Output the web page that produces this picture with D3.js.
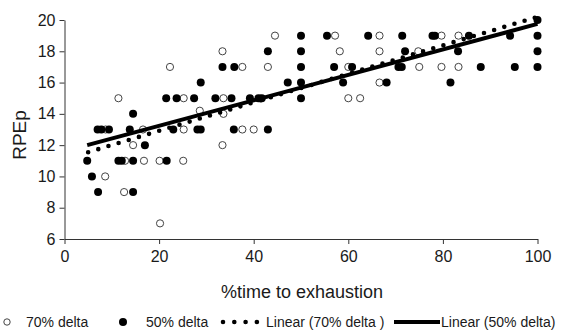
<!DOCTYPE html>
<html><head><meta charset="utf-8">
<script src="https://cdn.jsdelivr.net/npm/d3@7"></script>
<style>
html,body{margin:0;padding:0;background:#fff;}
svg{display:block;font-family:"Liberation Sans",Arial,sans-serif;}
</style></head>
<body>
<svg id="c" width="566" height="332"></svg>
<script>
// ---- data ----
const xTicks = [0, 20, 40, 60, 80, 100];
const yTicks = [6, 8, 10, 12, 14, 16, 18, 20];
const xTitle = "%time to exhaustion";
const yTitle = "RPEp";
const seriesNames = ["70% delta", "50% delta", "Linear (70% delta )", "Linear (50% delta)"];

// 70% delta (open circles): [x, y]
const delta70 = [
  [11.4,15],[8.7,13],[16.6,13],[14.5,12],[12.8,11],[16.8,11],[20.1,11],[25.1,11],
  [8.6,10],[12.6,9],[20.2,7],[22.3,17],[33.4,18],[37.6,17],[25.2,15],[33.6,15],
  [28.6,14.2],[33.6,14],[25.2,13],[37.6,13],[40,13],[33.4,12],[44.5,19],[57.2,19],
  [58.2,18],[43,17],[60,17],[60,15],[62.5,15],[66.6,19],[66.6,18],[75,17],
  [79.7,17],[66.6,16],[74.8,18],[79.7,19],[83.3,19],[83.3,17]
];
// 50% delta (filled circles): [x, y]
const delta50 = [
  [4.8,11],[5.8,10],[7.1,9],[7.0,13],[7.8,13],[9.4,13],[11.4,11],[12.1,11],[14.5,11],
  [13.8,13],[14.5,14],[17,12],[14.5,9],[21.6,11],
  [21.5,15],[23.7,15],[27.4,15],[31.9,15],[35.3,15],[39.2,15],[41,15],[41.7,15],
  [23,13],[28.1,13],[28.8,13],[35.8,13],[43,13],[28.8,16],[33.4,17],[35.9,17],
  [43,18],[47.2,16],[50,19],[50,18],[50,17],[50,16],[50,15],[55.5,19],[57,17],
  [58.9,16],[60.8,17],[64.2,19],[68.1,16],[70.6,17],[71.3,17],[71.4,19],[72,18],
  [77.8,19],[78.3,19],[81.6,16],[83.2,18],[85.5,19],[88,17],[94.2,19],[95.2,17],
  [100,20],[100,19],[100,18],[100,17]
];
// trendline end points
const trend70 = [[5, 11.55], [100, 20.2]];
const trend50 = [[4.8, 12.0], [100, 19.75]];

// ---- drawing ----
const svg = d3.select("#c");
const x = d3.scaleLinear().domain([0, 100]).range([64.5, 537.5]);
const y = d3.scaleLinear().domain([6, 20]).range([239, 20]);
const axisColor = "#333";
const textColor = "#1a1a1a";

const gx = svg.append("g").attr("transform", "translate(0,239)")
  .call(d3.axisBottom(x).tickValues(xTicks).tickSize(5).tickSizeOuter(0).tickPadding(7));
const gy = svg.append("g").attr("transform", "translate(64.5,0)")
  .call(d3.axisLeft(y).tickValues(yTicks).tickSize(5).tickSizeOuter(0).tickPadding(4));
[gx, gy].forEach(g => {
  g.selectAll("path,line").attr("stroke", axisColor).attr("stroke-width", 1);
  g.selectAll("text").attr("fill", textColor).style("font-size", "16px")
    .style("font-family", '"Liberation Sans",Arial,sans-serif');
});

svg.append("text").attr("x", 302).attr("y", 298).attr("text-anchor", "middle")
  .attr("fill", textColor).style("font-size", "18px").text(xTitle);
svg.append("text").attr("transform", "translate(26,135) rotate(-90)")
  .attr("text-anchor", "middle").attr("fill", textColor).style("font-size", "19px").text(yTitle);

const plot = svg.append("g");
plot.selectAll("circle.o").data(delta70).join("circle").attr("class", "o")
  .attr("cx", d => x(d[0])).attr("cy", d => y(d[1])).attr("r", 3.6)
  .attr("fill", "#fff").attr("stroke", "#444").attr("stroke-width", 1);
plot.selectAll("circle.f").data(delta50).join("circle").attr("class", "f")
  .attr("cx", d => x(d[0])).attr("cy", d => y(d[1])).attr("r", 4)
  .attr("fill", "#000");

const line = d3.line().x(d => x(d[0])).y(d => y(d[1]));
plot.append("path").attr("d", line(trend70)).attr("fill", "none")
  .attr("stroke", "#000").attr("stroke-width", 4.6).attr("stroke-linecap", "round")
  .attr("stroke-dasharray", "0 10.6");
plot.append("path").attr("d", line(trend50)).attr("fill", "none")
  .attr("stroke", "#000").attr("stroke-width", 4);

// ---- legend ----
const leg = svg.append("g").style("font-size", "14px").attr("fill", textColor);
const ly = 322;
leg.append("circle").attr("cx", 7).attr("cy", ly).attr("r", 3.2)
  .attr("fill", "#fff").attr("stroke", "#444");
leg.append("text").attr("x", 26).attr("y", ly + 5).text(seriesNames[0]);
leg.append("circle").attr("cx", 123).attr("cy", ly).attr("r", 4).attr("fill", "#000");
leg.append("text").attr("x", 146).attr("y", ly + 5).text(seriesNames[1]);
leg.append("path").attr("d", `M223,${ly}H258`).attr("stroke", "#000")
  .attr("stroke-width", 4.6).attr("stroke-linecap", "round").attr("stroke-dasharray", "0 11.3");
leg.append("text").attr("x", 266).attr("y", ly + 5).text(seriesNames[2]);
leg.append("path").attr("d", `M394,${ly}H440`).attr("stroke", "#000").attr("stroke-width", 4);
leg.append("text").attr("x", 441).attr("y", ly + 5).text(seriesNames[3]);
</script>
</body></html>
